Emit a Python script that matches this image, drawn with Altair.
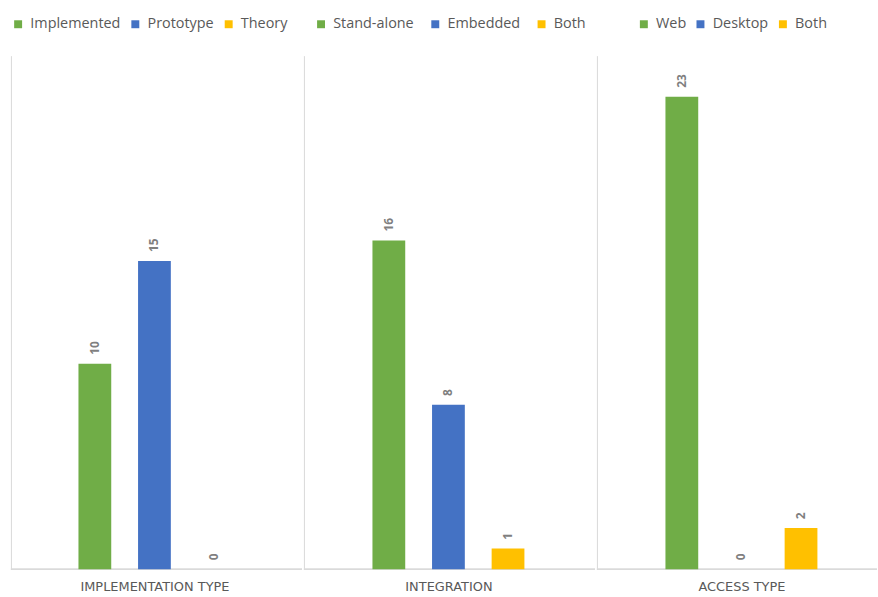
import altair as alt
import pandas as pd

groups = ["IMPLEMENTATION TYPE", "INTEGRATION", "ACCESS TYPE"]
categories = [
    ["Implemented", "Prototype", "Theory"],
    ["Stand-alone", "Embedded", "Both"],
    ["Web", "Desktop", "Both"],
]
values = [
    [10, 15, 0],
    [16, 8, 1],
    [23, 0, 2],
]
colors = ["#70AD47", "#4472C4", "#FFC000"]

FONT = "Open Sans"
GRAY = "#595959"
LINE = "#d9d9d9"

panel_widths = [293, 293, 282]
band_start = [68, 69, 69]
legend_x = [0, 10, 40]
col_pad = [7, 14, 7]


def panel(i):
    df = pd.DataFrame({"cat": categories[i], "value": values[i]})
    w = panel_widths[i]
    s = band_start[i]
    x = alt.X(
        "cat:N",
        sort=categories[i],
        scale=alt.Scale(paddingInner=0.45, paddingOuter=0, range=[s, s + 153]),
        axis=alt.Axis(
            labels=False,
            ticks=False,
            domain=False,
            title=groups[i],
            titleFont="DejaVu Sans",
            titleFontSize=13,
            titleFontWeight="normal",
            titleColor=GRAY,
            titlePadding=12,
            grid=False,
        ),
    )
    y = alt.Y(
        "value:Q",
        scale=alt.Scale(domain=[0, 25], nice=False),
        axis=alt.Axis(
            labels=False, ticks=False, title=None, grid=False, domainColor=LINE
        ),
    )
    bars = alt.Chart(df).mark_bar().encode(
        x=x,
        y=y,
        color=alt.Color(
            "cat:N",
            scale=alt.Scale(domain=categories[i], range=colors),
            legend=alt.Legend(
                title=None,
                orient="none",
                legendX=legend_x[i],
                legendY=-39,
                direction="horizontal",
                symbolType="square",
                symbolSize=64,
                symbolStrokeWidth=0,
                labelFont=FONT,
                labelFontSize=14.5,
                labelColor=GRAY,
                labelOffset=5,
                columnPadding=col_pad[i],
            ),
        ),
    )
    baseline = alt.Chart(df).mark_rule(color=LINE, strokeWidth=1).encode(
        y=alt.datum(0),
        x=alt.value(0),
        x2=alt.value(w),
    )
    labels = alt.Chart(df).mark_text(
        angle=270,
        align="left",
        baseline="middle",
        dx=9,
        font=FONT,
        fontSize=12,
        fontWeight="bold",
        color="#7f7f7f",
    ).encode(
        x=alt.X("cat:N", sort=categories[i]),
        y="value:Q",
        text="value:Q",
    )
    return (baseline + bars + labels).properties(width=w, height=517)


chart = (
    alt.hconcat(panel(0), panel(1), panel(2), spacing=0)
    .resolve_scale(color="independent", x="independent", y="independent")
    .properties(
        padding={"left": 10, "top": 15, "right": 0, "bottom": 0},
        background="white",
    )
    .configure_view(strokeWidth=0, stroke="transparent")
)

chart.save("out.html", embed_options={"renderer": "svg", "actions": False})
